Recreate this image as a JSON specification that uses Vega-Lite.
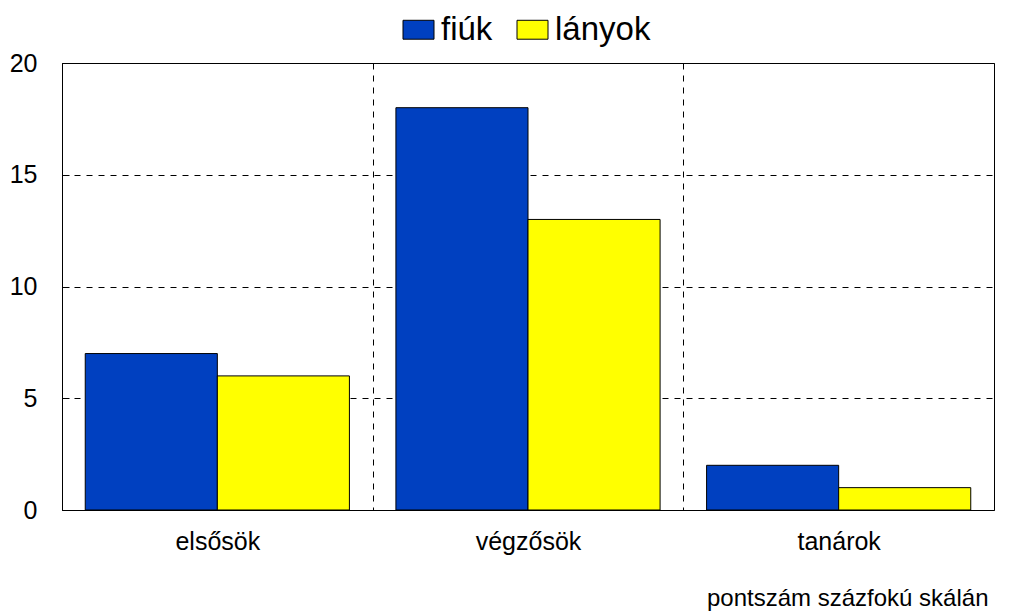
{
  "$schema": "https://vega.github.io/schema/vega-lite/v6.json",
  "width": 932,
  "height": 447,
  "autosize": {"type": "none"},
  "padding": {"left": 62, "top": 63, "right": 17, "bottom": 102},
  "background": "white",
  "data": {
    "values": [
      {"csoport": "elsősök", "nem": "fiúk", "pont": 7},
      {"csoport": "elsősök", "nem": "lányok", "pont": 6},
      {"csoport": "végzősök", "nem": "fiúk", "pont": 18},
      {"csoport": "végzősök", "nem": "lányok", "pont": 13},
      {"csoport": "tanárok", "nem": "fiúk", "pont": 2},
      {"csoport": "tanárok", "nem": "lányok", "pont": 1}
    ]
  },
  "mark": {"type": "bar", "stroke": "black", "strokeWidth": 1},
  "encoding": {
    "x": {
      "field": "csoport",
      "type": "nominal",
      "sort": ["elsősök", "végzősök", "tanárok"],
      "scale": {"paddingInner": 0, "paddingOuter": 0},
      "axis": {
        "title": "pontszám százfokú skálán",
        "labelAngle": 0,
        "grid": true,
        "tickBand": "extent",
        "gridDash": [6, 6],
        "gridColor": "black",
        "gridOpacity": 1,
        "gridWidth": 1,
        "ticks": false,
        "domain": false,
        "labelFontSize": 25,
        "labelColor": "black",
        "labelPadding": 19,
        "titleFontSize": 24,
        "titleFontWeight": "normal",
        "titleColor": "black",
        "titleAnchor": "end",
        "titleX": 926,
        "titleAlign": "right",
        "titlePadding": 32
      }
    },
    "xOffset": {
      "field": "nem",
      "sort": ["fiúk", "lányok"],
      "scale": {"paddingOuter": 0.176, "paddingInner": 0}
    },
    "y": {
      "field": "pont",
      "type": "quantitative",
      "scale": {"domain": [0, 20]},
      "axis": {
        "title": null,
        "values": [0, 5, 10, 15, 20],
        "grid": true,
        "gridDash": [6, 6],
        "gridColor": "black",
        "gridOpacity": 1,
        "gridWidth": 1,
        "ticks": true,
        "tickSize": -7,
        "tickColor": "black",
        "domain": false,
        "labelFontSize": 25,
        "labelColor": "black",
        "labelPadding": 32
      }
    },
    "color": {
      "field": "nem",
      "type": "nominal",
      "scale": {"domain": ["fiúk", "lányok"], "range": ["#0040C0", "#FFFF00"]},
      "legend": {
        "title": null,
        "orient": "none",
        "direction": "horizontal",
        "legendX": 340,
        "legendY": -50,
        "symbolType": "M-1,-0.61H1V0.61H-1Z",
        "symbolSize": 961,
        "symbolStrokeColor": "black",
        "symbolStrokeWidth": 1,
        "symbolOpacity": 1,
        "labelFontSize": 33,
        "labelColor": "black",
        "labelOffset": 6,
        "columnPadding": 22
      }
    }
  },
  "config": {
    "view": {"stroke": "black", "strokeWidth": 1},
    "font": "Liberation Sans"
  }
}
